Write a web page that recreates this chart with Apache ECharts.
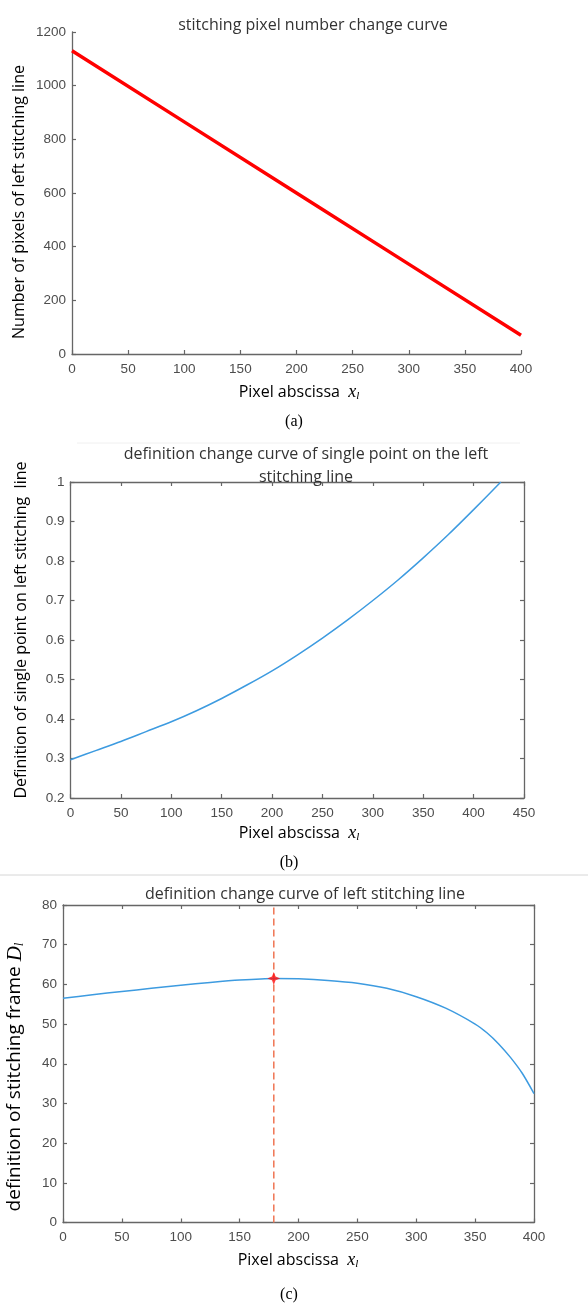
<!DOCTYPE html>
<html><head><meta charset="utf-8">
<script src="https://cdn.jsdelivr.net/npm/echarts@6.0.0/dist/echarts.min.js"></script>
<style>html,body{margin:0;padding:0;background:#fff}#c{width:588px;height:1304px}</style>
</head><body><div id="c"></div>
<script>
// ---- data ----
const titles = ['stitching pixel number change curve',
  'definition change curve of single point on the left\nstitching line',
  'definition change curve of left stitching line'];
const aX = [0, 100, 200, 300, 400];
const aY = [1130, 865, 600, 335, 70];
const bX = [0, 25, 50, 75, 100, 125, 150, 175, 200, 225, 250, 275, 300, 325, 350, 375, 400, 427];
const bY = [0.297, 0.32, 0.343, 0.368, 0.393, 0.421, 0.452, 0.486, 0.522, 0.562, 0.605, 0.651, 0.700, 0.752, 0.808, 0.867, 0.930, 1.0];
const cX = [0, 25, 50, 75, 100, 125, 150, 179, 200, 225, 250, 275, 300, 325, 350, 360, 370, 380, 390, 400];
const cY = [56.5, 57.4, 58.2, 59.0, 59.8, 60.5, 61.1, 61.5, 61.4, 61.0, 60.3, 59.0, 56.9, 54.0, 50.0, 47.8, 45.0, 41.6, 37.6, 32.5];
const peak = [179, 61.5];
const xRanges = [[0, 400, 50], [0, 450, 50], [0, 400, 50]];
const yRanges = [[0, 1200, 200], [0.2, 1, 0.1], [0, 80, 10]];

const zip = (xs, ys) => xs.map((x, i) => [x, ys[i]]);
const chart = echarts.init(document.getElementById('c'), null, {renderer: 'canvas'});
const AX = '#666';
const fmt = v => String(Math.round(v * 1000) / 1000);
const tickFont = {color: '#4d4d4d', fontSize: 13.5, fontFamily: 'Liberation Sans', formatter: fmt};
const grids = [
  {left: 72, top: 32, width: 449, height: 322},
  {left: 70.5, top: 482, width: 453.5, height: 316},
  {left: 63, top: 905, width: 471, height: 317.5}
];
const xAxis = [], yAxis = [];
grids.forEach((g, i) => {
  const [x0, x1, xi] = xRanges[i], [y0, y1, yi] = yRanges[i];
  const base = {type: 'value', gridIndex: i, splitLine: {show: false},
    axisLine: {show: true, lineStyle: {color: AX, width: 1.3}},
    axisTick: {show: true, inside: true, length: 4, lineStyle: {color: AX, width: 1.2}}};
  xAxis.push(Object.assign({}, base, {min: x0, max: x1, interval: xi, position: 'bottom',
    axisLabel: Object.assign({margin: 8}, tickFont)}));
  yAxis.push(Object.assign({}, base, {min: y0, max: y1, interval: yi, position: 'left',
    axisLabel: Object.assign({margin: 6}, tickFont)}));
});
// box axes (top / right) for panels b and c
[1, 2].forEach(i => {
  const [x0, x1, xi] = xRanges[i], [y0, y1, yi] = yRanges[i];
  const base = {type: 'value', gridIndex: i, splitLine: {show: false}, axisLabel: {show: false},
    axisLine: {show: true, onZero: false, lineStyle: {color: AX, width: 1.3}},
    axisTick: {show: true, inside: true, length: 4, lineStyle: {color: AX, width: 1.2}}};
  xAxis.push(Object.assign({}, base, {min: x0, max: x1, interval: xi, position: 'top'}));
  yAxis.push(Object.assign({}, base, {min: y0, max: y1, interval: yi, position: 'right'}));
});

const rich = {
  n: {fontFamily: 'Open Sans', fontSize: 16, color: '#333'},
  v: {fontFamily: 'Liberation Serif', fontStyle: 'italic', fontSize: 18, color: '#333'},
  s: {fontFamily: 'Liberation Serif', fontStyle: 'italic', fontSize: 11, color: '#333', padding: [9, 0, 0, 0]},
  nb: {fontFamily: 'Open Sans', fontSize: 19, color: '#333'},
  vb: {fontFamily: 'Liberation Serif', fontStyle: 'italic', fontSize: 21, color: '#333'},
  sb: {fontFamily: 'Liberation Serif', fontStyle: 'italic', fontSize: 13, color: '#333', padding: [10, 0, 0, 0]}
};
function txt(x, y, text, rot, extra) {
  return {type: 'text', x: x, y: y, rotation: rot || 0,
    style: Object.assign({text: text, align: 'center', verticalAlign: 'middle', rich: rich}, extra || {})};
}
const xName = '{n|Pixel abscissa  }{v|x}{s|l}';
const capStyle = {fontFamily: 'Liberation Serif', fontSize: 16, fill: '#000'};
const titleStyle = {fontFamily: 'Open Sans', fontWeight: 'normal', fontSize: 16, color: '#333'};

const option = {
  animation: false,
  backgroundColor: '#fff',
  title: [
    {text: titles[0], left: 308, top: 9, textAlign: 'center',
      textStyle: Object.assign({lineHeight: 22}, titleStyle)},
    {text: titles[1], left: 301, top: 438, textAlign: 'center',
      textStyle: Object.assign({lineHeight: 23}, titleStyle)},
    {text: titles[2], left: 300, top: 878, textAlign: 'center',
      textStyle: Object.assign({lineHeight: 22}, titleStyle)}
  ],
  grid: grids,
  xAxis: xAxis,
  yAxis: yAxis,
  series: [
    {type: 'line', xAxisIndex: 0, yAxisIndex: 0, data: zip(aX, aY), showSymbol: false,
      lineStyle: {color: '#ff0000', width: 3.5}},
    {type: 'line', xAxisIndex: 1, yAxisIndex: 1, data: zip(bX, bY), showSymbol: false, smooth: 0.3,
      lineStyle: {color: '#3d9be0', width: 1.5}},
    {type: 'line', xAxisIndex: 2, yAxisIndex: 2, data: [[peak[0], yRanges[2][0]], [peak[0], yRanges[2][1]]],
      showSymbol: false, lineStyle: {color: '#f07a5a', width: 1.6, type: [7, 4]}},
    {type: 'line', xAxisIndex: 2, yAxisIndex: 2, data: zip(cX, cY), showSymbol: false, smooth: 0.2,
      lineStyle: {color: '#3d9be0', width: 1.5}},
    {type: 'scatter', xAxisIndex: 2, yAxisIndex: 2, data: [peak], z: 5,
      symbol: 'path://M0,-10L2.8,-2.8L10,0L2.8,2.8L0,10L-2.8,2.8L-10,0L-2.8,-2.8Z',
      symbolSize: 13, itemStyle: {color: '#ff1010'}}
  ],
  graphic: [
    // y-axis names
    txt(19, 202, '{n|Number of pixels of left stitching line}', Math.PI / 2),
    txt(21, 630, '{n|Definition of single point on left stitching  line}', Math.PI / 2),
    txt(15, 1077, '{nb|definition of stitching frame }{vb|D}{sb|l}', Math.PI / 2),
    // x-axis names
    txt(299, 392, xName),
    txt(299, 833, xName),
    txt(298, 1260, xName),
    // captions
    {type: 'text', x: 294, y: 422, style: Object.assign({text: '(a)', align: 'center', verticalAlign: 'middle'}, capStyle)},
    {type: 'text', x: 289, y: 863, style: Object.assign({text: '(b)', align: 'center', verticalAlign: 'middle'}, capStyle)},
    {type: 'text', x: 289, y: 1295, style: Object.assign({text: '(c)', align: 'center', verticalAlign: 'middle'}, capStyle)},
    // separators
    {type: 'line', shape: {x1: 0, y1: 875, x2: 588, y2: 875}, style: {stroke: '#d6d6d6', lineWidth: 1}},
    {type: 'line', shape: {x1: 77, y1: 443, x2: 520, y2: 443}, style: {stroke: '#f0f0f0', lineWidth: 1}}
  ]
};
chart.setOption(option);
</script>
</body></html>
